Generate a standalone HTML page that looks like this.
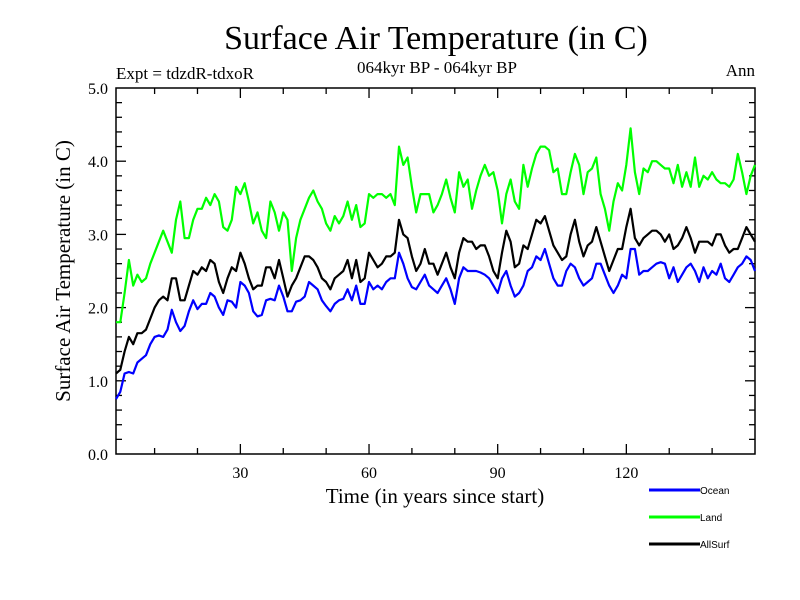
<!DOCTYPE html>
<html><head><meta charset="utf-8"><style>
body{margin:0;background:#fff}
svg{display:block;font-family:"Liberation Serif",serif}
</style></head><body>
<svg width="800" height="600">
<rect width="800" height="600" fill="#fff"/>
<text x="436" y="49" font-size="34" text-anchor="middle">Surface Air Temperature (in C)</text>
<text x="437" y="73" font-size="17" text-anchor="middle">064kyr BP - 064kyr BP</text>
<text x="116" y="79" font-size="17">Expt = tdzdR-tdxoR</text>
<text x="755" y="76" font-size="17" text-anchor="end">Ann</text>
<g id="axes"></g>
<g id="series"></g>
<text x="435" y="503" font-size="21" text-anchor="middle">Time (in years since start)</text>
<text transform="translate(70,271) rotate(-90)" font-size="21" text-anchor="middle">Surface Air Temperature (in C)</text>
<g id="legend"></g>
</svg>
<script>
const years=[];for(let i=1;i<=150;i++)years.push(i);
const ocean=[0.75,0.85,1.1,1.12,1.1,1.25,1.3,1.35,1.5,1.6,1.62,1.6,1.7,1.97,1.8,1.68,1.75,1.95,2.1,1.98,2.05,2.05,2.2,2.15,2.0,1.9,2.1,2.08,2.0,2.35,2.3,2.2,1.95,1.88,1.9,2.1,2.12,2.1,2.3,2.15,1.95,1.95,2.08,2.1,2.15,2.35,2.3,2.25,2.1,2.02,1.95,2.05,2.1,2.12,2.25,2.1,2.3,2.05,2.05,2.35,2.25,2.3,2.25,2.35,2.4,2.4,2.75,2.6,2.4,2.28,2.25,2.35,2.45,2.3,2.25,2.2,2.3,2.4,2.25,2.05,2.4,2.55,2.5,2.5,2.5,2.48,2.45,2.4,2.3,2.2,2.4,2.5,2.3,2.15,2.2,2.3,2.5,2.55,2.7,2.65,2.8,2.6,2.4,2.3,2.3,2.5,2.6,2.55,2.4,2.3,2.35,2.4,2.6,2.6,2.45,2.3,2.2,2.3,2.45,2.4,2.8,2.8,2.45,2.5,2.5,2.55,2.6,2.62,2.6,2.4,2.55,2.35,2.45,2.55,2.6,2.5,2.35,2.55,2.4,2.5,2.45,2.6,2.4,2.35,2.45,2.55,2.6,2.7,2.65,2.5];
const land=[1.8,1.8,2.2,2.65,2.3,2.45,2.35,2.4,2.6,2.75,2.9,3.05,2.9,2.75,3.2,3.45,2.95,2.95,3.2,3.35,3.35,3.5,3.4,3.55,3.45,3.1,3.05,3.2,3.65,3.55,3.7,3.45,3.15,3.3,3.05,2.95,3.45,3.3,3.05,3.3,3.2,2.5,2.95,3.2,3.35,3.5,3.6,3.45,3.35,3.15,3.05,3.25,3.15,3.25,3.45,3.2,3.4,3.1,3.15,3.55,3.5,3.55,3.55,3.5,3.55,3.4,4.2,3.95,4.05,3.65,3.3,3.55,3.55,3.55,3.3,3.4,3.55,3.75,3.5,3.3,3.85,3.65,3.75,3.35,3.6,3.8,3.95,3.8,3.85,3.6,3.15,3.55,3.75,3.45,3.35,3.95,3.65,3.9,4.1,4.2,4.2,4.15,3.85,3.9,3.55,3.55,3.85,4.1,3.95,3.55,3.85,3.9,4.05,3.55,3.35,3.05,3.45,3.7,3.6,3.95,4.45,3.85,3.55,3.9,3.85,4.0,4.0,3.95,3.9,3.9,3.7,3.95,3.65,3.85,3.65,4.05,3.65,3.8,3.75,3.85,3.75,3.7,3.7,3.65,3.75,4.1,3.85,3.55,3.8,3.95];
const allsurf=[1.1,1.15,1.4,1.6,1.5,1.65,1.65,1.7,1.85,2.0,2.1,2.15,2.1,2.4,2.4,2.1,2.1,2.3,2.5,2.45,2.55,2.5,2.65,2.6,2.35,2.2,2.4,2.55,2.5,2.75,2.6,2.4,2.25,2.3,2.3,2.55,2.55,2.4,2.65,2.4,2.15,2.3,2.4,2.55,2.7,2.7,2.65,2.55,2.4,2.35,2.25,2.4,2.45,2.5,2.65,2.4,2.65,2.35,2.4,2.75,2.65,2.55,2.6,2.7,2.7,2.75,3.2,3.0,2.95,2.7,2.5,2.6,2.8,2.6,2.6,2.45,2.6,2.75,2.55,2.4,2.75,2.95,2.9,2.9,2.8,2.85,2.85,2.7,2.5,2.4,2.75,3.05,2.9,2.55,2.6,2.85,2.8,3.0,3.2,3.15,3.25,3.05,2.85,2.75,2.65,2.7,3.0,3.2,2.9,2.7,2.85,2.9,3.1,2.9,2.7,2.5,2.65,2.8,2.8,3.1,3.35,2.95,2.85,2.95,3.0,3.05,3.05,3.0,2.9,3.0,2.8,2.85,2.95,3.1,2.95,2.75,2.9,2.9,2.9,2.85,3.0,3.0,2.85,2.75,2.8,2.8,2.95,3.1,3.0,2.9];
const xTicks=[30,60,90,120];
const yTicks=[0,1,2,3,4,5];
const seriesNames=["Ocean","Land","AllSurf"];
const seriesColors=["#0000ff","#00ff00","#000000"];
const L=116,R=755,T=88,B=454;
const xs=v=>L+(v-1)*(R-L)/149;
const ys=v=>B-v*(B-T)/5;
const NS="http://www.w3.org/2000/svg";
function mk(tag,attrs,parent){const e=document.createElementNS(NS,tag);for(const k in attrs)e.setAttribute(k,attrs[k]);parent.appendChild(e);return e;}
const ax=document.getElementById('axes');
const frame=mk('rect',{x:L,y:T,width:R-L,height:B-T,fill:'none',stroke:'#000','stroke-width':1.5},ax);


for(let yr=10;yr<=140;yr+=10){const big=yr%30===0;const len=big?10:6;
 mk('line',{x1:xs(yr),x2:xs(yr),y1:B,y2:B-len,stroke:'#000','stroke-width':1.3},ax);
 mk('line',{x1:xs(yr),x2:xs(yr),y1:T,y2:T+len,stroke:'#000','stroke-width':1.3},ax);}
xTicks.forEach(t=>{const e=mk('text',{x:xs(t),y:B+24,'font-size':16,'text-anchor':'middle'},ax);e.textContent=t;
 
 });
for(let i=1;i<25;i++){const v=i*0.2;const big=i%5===0;const len=big?10:6;
 mk('line',{x1:L,x2:L+len,y1:ys(v),y2:ys(v),stroke:'#000','stroke-width':1.3},ax);
 mk('line',{x1:R,x2:R-len,y1:ys(v),y2:ys(v),stroke:'#000','stroke-width':1.3},ax);}
yTicks.forEach(t=>{const e=mk('text',{x:L-8,y:ys(t)+6,'font-size':16,'text-anchor':'end'},ax);e.textContent=t.toFixed(1);
 
 });
const sg=document.getElementById('series');
[ocean,land,allsurf].forEach((d,i)=>{
 const pts=d.map((v,j)=>xs(years[j]).toFixed(1)+','+ys(v).toFixed(1)).join(' ');
 const p=mk('polyline',{points:pts,fill:'none',stroke:seriesColors[i],'stroke-width':2.2,'stroke-linejoin':'round'},sg);
 
 
});
const lg=document.getElementById('legend');
seriesNames.forEach((n,i)=>{const y=490+i*27;
 const g=mk('g',{},lg);
 
 
 mk('line',{x1:649,x2:700,y1:y,y2:y,stroke:seriesColors[i],'stroke-width':3},g);
 const t=mk('text',{x:700,y:y+4,'font-size':10,'font-family':'Liberation Sans, sans-serif'},g);t.textContent=n;});
</script>
</body></html>
